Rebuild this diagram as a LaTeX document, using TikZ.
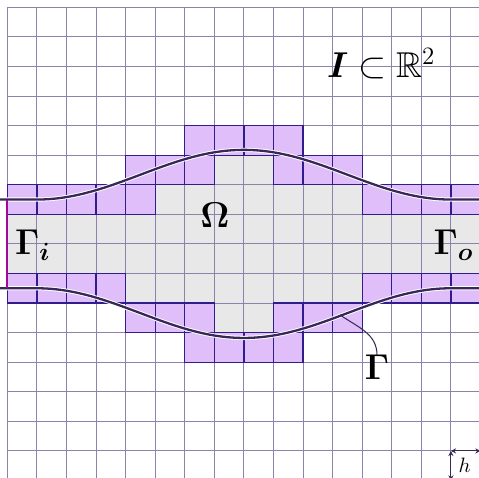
\documentclass[tikz,border=0pt]{standalone}
\usepackage{amsmath,amssymb,bm}
\usetikzlibrary{arrows.meta}
\definecolor{gridc}{RGB}{140,130,172}
\definecolor{cellborder}{RGB}{48,28,140}
\definecolor{purplefill}{RGB}{223,190,250}
\definecolor{grayfill}{RGB}{232,232,232}
\definecolor{curvec}{RGB}{55,40,85}
\definecolor{gammai}{RGB}{160,10,155}
\tikzset{
  graycell/.style={fill=grayfill},
  purplecell/.style={fill=purplefill, draw=cellborder, line width=0.6pt},
  gridline/.style={draw=gridc, line width=0.5pt},
  bdry/.style={draw=curvec, line width=1.1pt, preaction={draw=white, line width=2.0pt}},
  lbl/.style={font=\LARGE, inner sep=0pt},
  leader/.style={draw=curvec, line width=0.5pt},
  hmark/.style={draw=curvec, line width=0.5pt, {Stealth[length=2.5pt,width=2.5pt]}-{Stealth[length=2.5pt,width=2.5pt]}}
}
\begin{document}
\begin{tikzpicture}[x=0.5cm, y=-0.5cm]
\useasboundingbox (-0.247,-0.247) rectangle (15.95,15.91);
\clip (-0.247,-0.247) rectangle (15.95,15.91);
% gray cells (fluid domain interior)
\foreach \r/\cs in {5/{7,8}, 6/{5,6,7,8,9,10,11}, 7/{0,1,2,3,4,5,6,7,8,9,10,11,12,13,14,15}, 8/{0,1,2,3,4,5,6,7,8,9,10,11,12,13,14,15}, 9/{4,5,6,7,8,9,10,11}, 10/{7,8}}{
  \foreach \c in \cs { \fill[graycell] (\c,\r) rectangle ++(1,1); }
}
% grid
\draw[gridline, step=0.5cm] (0,0) grid (16,16);
% purple cut cells
\foreach \r/\cs in {4/{6,7,8,9}, 5/{4,5,6,9,10,11}, 6/{0,1,2,3,4,12,13,14,15}, 9/{0,1,2,3,12,13,14,15}, 10/{4,5,6,9,10,11}, 11/{6,7,8,9}}{
  \foreach \c in \cs { \path[purplecell] (\c,\r) rectangle ++(1,1); }
}
% boundaries
\coordinate (gi1) at (0,6.5);
\coordinate (gi2) at (0,9.5);
\path[bdry] (-0.5,6.5) -- plot[domain=1:15, samples=71, smooth] (\x,{6.5-0.84*(1+cos(180*(\x-8)/7))}) -- (16.5,6.5);
\path[bdry] (-0.5,9.5) -- plot[domain=1:15, samples=71, smooth] (\x,{9.5+0.84*(1+cos(180*(\x-8)/7))}) -- (16.5,9.5);
\draw[gammai, line width=1.1pt] (gi1) -- (gi2);
% labels
\node[lbl, anchor=base] (omega) at (7.02,7.46) {$\boldsymbol{\Omega}$};
\node[lbl, anchor=base west] (gin) at (0.25,8.37) {$\boldsymbol{\Gamma_{i}}$};
\node[lbl, anchor=base west] (gout) at (14.4,8.37) {$\boldsymbol{\Gamma_{o}}$};
\node[lbl, anchor=base] (gam) at (12.5,12.6) {$\boldsymbol{\Gamma}$};
\node[lbl, anchor=base west] (dom) at (10.8,2.39) {$\boldsymbol{I}\subset\mathbb{R}^2$};
\coordinate (gp) at (11.25,10.40);
\draw[leader] (gp) to[out=-35, in=90] (gam.north);
% cell size marker
\coordinate (h0) at (15,15);
\coordinate (h1) at (16,15);
\coordinate (h2) at (15,16);
\draw[hmark] (h0) -- (h1);
\draw[hmark] (h0) -- (h2);
\node[inner sep=0pt, anchor=base west] (hl) at (15.25,15.72) {$h$};
\end{tikzpicture}
\end{document}
